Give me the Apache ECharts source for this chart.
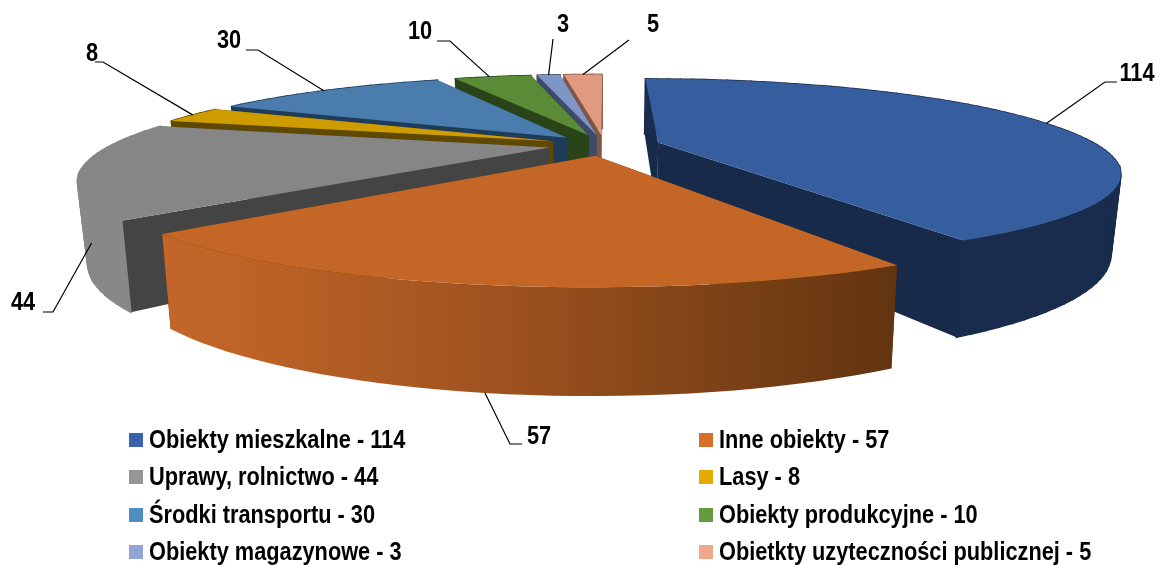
<!DOCTYPE html>
<html>
<head>
<meta charset="utf-8">
<script src="https://cdn.jsdelivr.net/npm/echarts@6/dist/echarts.min.js"></script>
<style>
  html,body{margin:0;padding:0;background:#fff;}
  #pie_3d{width:1161px;height:565px;}
</style>
</head>
<body>
<div id="pie_3d"></div>
<script>
  // values
  const names = ['Obiekty mieszkalne','Inne obiekty','Uprawy, rolnictwo','Lasy','Środki transportu','Obiekty produkcyjne','Obiekty magazynowe','Obietkty uzyteczności publicznej'];
  const values = [114,57,44,8,30,10,3,5];

  // colours
  const legendColors = ['#3a62aa','#d56f2b','#969696','#e5ab00','#4e8ec0','#629c3e','#90a4d6','#f0a88c'];
  const topColors = ['#365e9f','#c46726','#868686','#cf9c00','#4a7cad','#5a8c38','#7f95c6','#df9a7f'];
  const wallColors = ['#172a4a','#5f3310','#444444','#5f4800','#1f3c5a','#2a4419','#3d4a68','#7f5545'];

  // label placement: [angle shift, position on wall, elbow x, elbow y, end x, end y, text x, text y]
  const labelPlace = [
    [0,0,1105,82,1117,82,1137,74],
    [0,1,510,444,522,444,539,437],
    [-17.5,.5,53,312,43,312,23,303],
    [0,0,103,62,95,62,92,54],
    [-.8,0,258,50,246,50,229,41],
    [-.6,0,450,41,437,41,420,32],
    [0,0,553,39,553,39,563,25],
    [0,0,629,40,629,40,653,25]
  ];
  const legendX = [129,699];
  const legendY = [440,477,515,552];

  const FONT = 'bold 25px "Liberation Sans",sans-serif';
  const NARROW = .87;
  const total = values.reduce((a,b)=>a+b,0);

  // perspective of the disc
  const cx=604.5, cy=145, rx=447, ry=84, persp=.3, farSqueeze=.015, edgeFlat=.01, explode=.125;

  function project(u,v){
    let w = 1+persp*v;
    let wx = w+farSqueeze*Math.max(v,0);
    return [cx+rx*u*(1-edgeFlat*u*u*u*u)/wx, cy-ry*v/w];
  }
  // bottom plane sits below the top one, more so near the viewer
  function lower(p,f){
    f = f===undefined?1:f;
    let h = 55+.257*(p[1]-78);
    return [p[0]-.019*(p[0]-cx)*f, p[1]+h*f];
  }
  function rad(d){return d*Math.PI/180;}

  function renderSlice(i){
    return function(params,api){
      let value = api.value(0), start = api.value(1);
      let a0 = start/total*360, a1 = (start+value)/total*360, mid = (a0+a1)/2;
      let ox = explode*Math.sin(rad(mid)), oy = explode*Math.cos(rad(mid));
      let point = a=>project(ox+Math.sin(rad(a)),oy+Math.cos(rad(a)));
      let apex = project(ox,oy);

      let arc = [];
      let steps = Math.max(4,Math.ceil((a1-a0)/2));
      for(let s=0;s<=steps;s++){
        arc.push(point(a0+(a1-a0)*s/steps));
      }
      let arcLow = arc.map(p=>lower(p));
      let apexLow = lower(apex);
      let radial = wallColors[i];

      let children = [
        {type:'polygon',shape:{points:[apex,arc[0],arcLow[0],apexLow]},style:{fill:radial}},
        {type:'polygon',shape:{points:[apex,arc[steps],arcLow[steps],apexLow]},style:{fill:radial}}
      ];

      // outer wall
      if(i===1){
        children.push({type:'polygon',shape:{points:arc.concat(arcLow.slice().reverse())},style:{
          fill:new echarts.graphic.LinearGradient(0,0,1,0,[
            {offset:0,color:'#c4662a'},{offset:.1,color:'#bf6327'},{offset:.5,color:'#9a501e'},{offset:1,color:'#623410'}
          ])
        }});
      }else{
        let wallFill = i===2?'#888888':(i===0?'#192c4d':radial);
        for(let s=0;s<steps;s++){
          children.push({type:'polygon',
            shape:{points:[arc[s],arc[s+1],arcLow[s+1],arcLow[s]]},
            style:{fill:wallFill,stroke:wallFill,lineWidth:1.5}});
        }
      }
      children.push({type:'polygon',shape:{points:[apex].concat(arc)},style:{fill:topColors[i]}});

      // leader line + value
      let lp = labelPlace[i];
      let anchor = lower(point(mid+lp[0]),lp[1]);
      let line = [anchor,[lp[2],lp[3]]];
      if(lp[4]!==lp[2]) line.push([lp[4],lp[5]]);
      children.push({type:'polyline',shape:{points:line},style:{fill:null,stroke:'#000',lineWidth:1.2}});
      children.push({type:'text',x:lp[6],y:lp[7],scaleX:NARROW,style:{text:String(value),x:0,y:0,fill:'#000',font:FONT,textAlign:'center',textVerticalAlign:'middle'}});

      // legend row
      let lx = legendX[i%2], ly = legendY[i>>1];
      children.push({type:'rect',shape:{x:lx,y:ly-7,width:14,height:14},style:{fill:legendColors[i]}});
      children.push({type:'text',x:lx+20,y:ly+1,scaleX:NARROW,style:{text:`${names[i]} - ${value}`,x:0,y:0,fill:'#000',font:FONT,textAlign:'left',textVerticalAlign:'middle'}});

      return {type:'group',children:children};
    };
  }

  let chart = echarts.init(document.getElementById('pie_3d'));
  let sum = 0;
  let series = values.map((v,i)=>{
    let item = {
      name:names[i],
      type:'custom',
      coordinateSystem:'none',
      silent:true,
      animation:false,
      itemStyle:{color:legendColors[i]},
      renderItem:renderSlice(i),
      data:[[v,sum]]
    };
    sum += v;
    return item;
  });
  // painter's order: far slices first, Inne obiekty on top
  [7,6,5,4,3,2,0,1].forEach((idx,k)=>{series[idx].z = k+2;});

  chart.setOption({
    backgroundColor:'#fff',
    animation:false,
    series:series
  });
</script>
</body>
</html>
